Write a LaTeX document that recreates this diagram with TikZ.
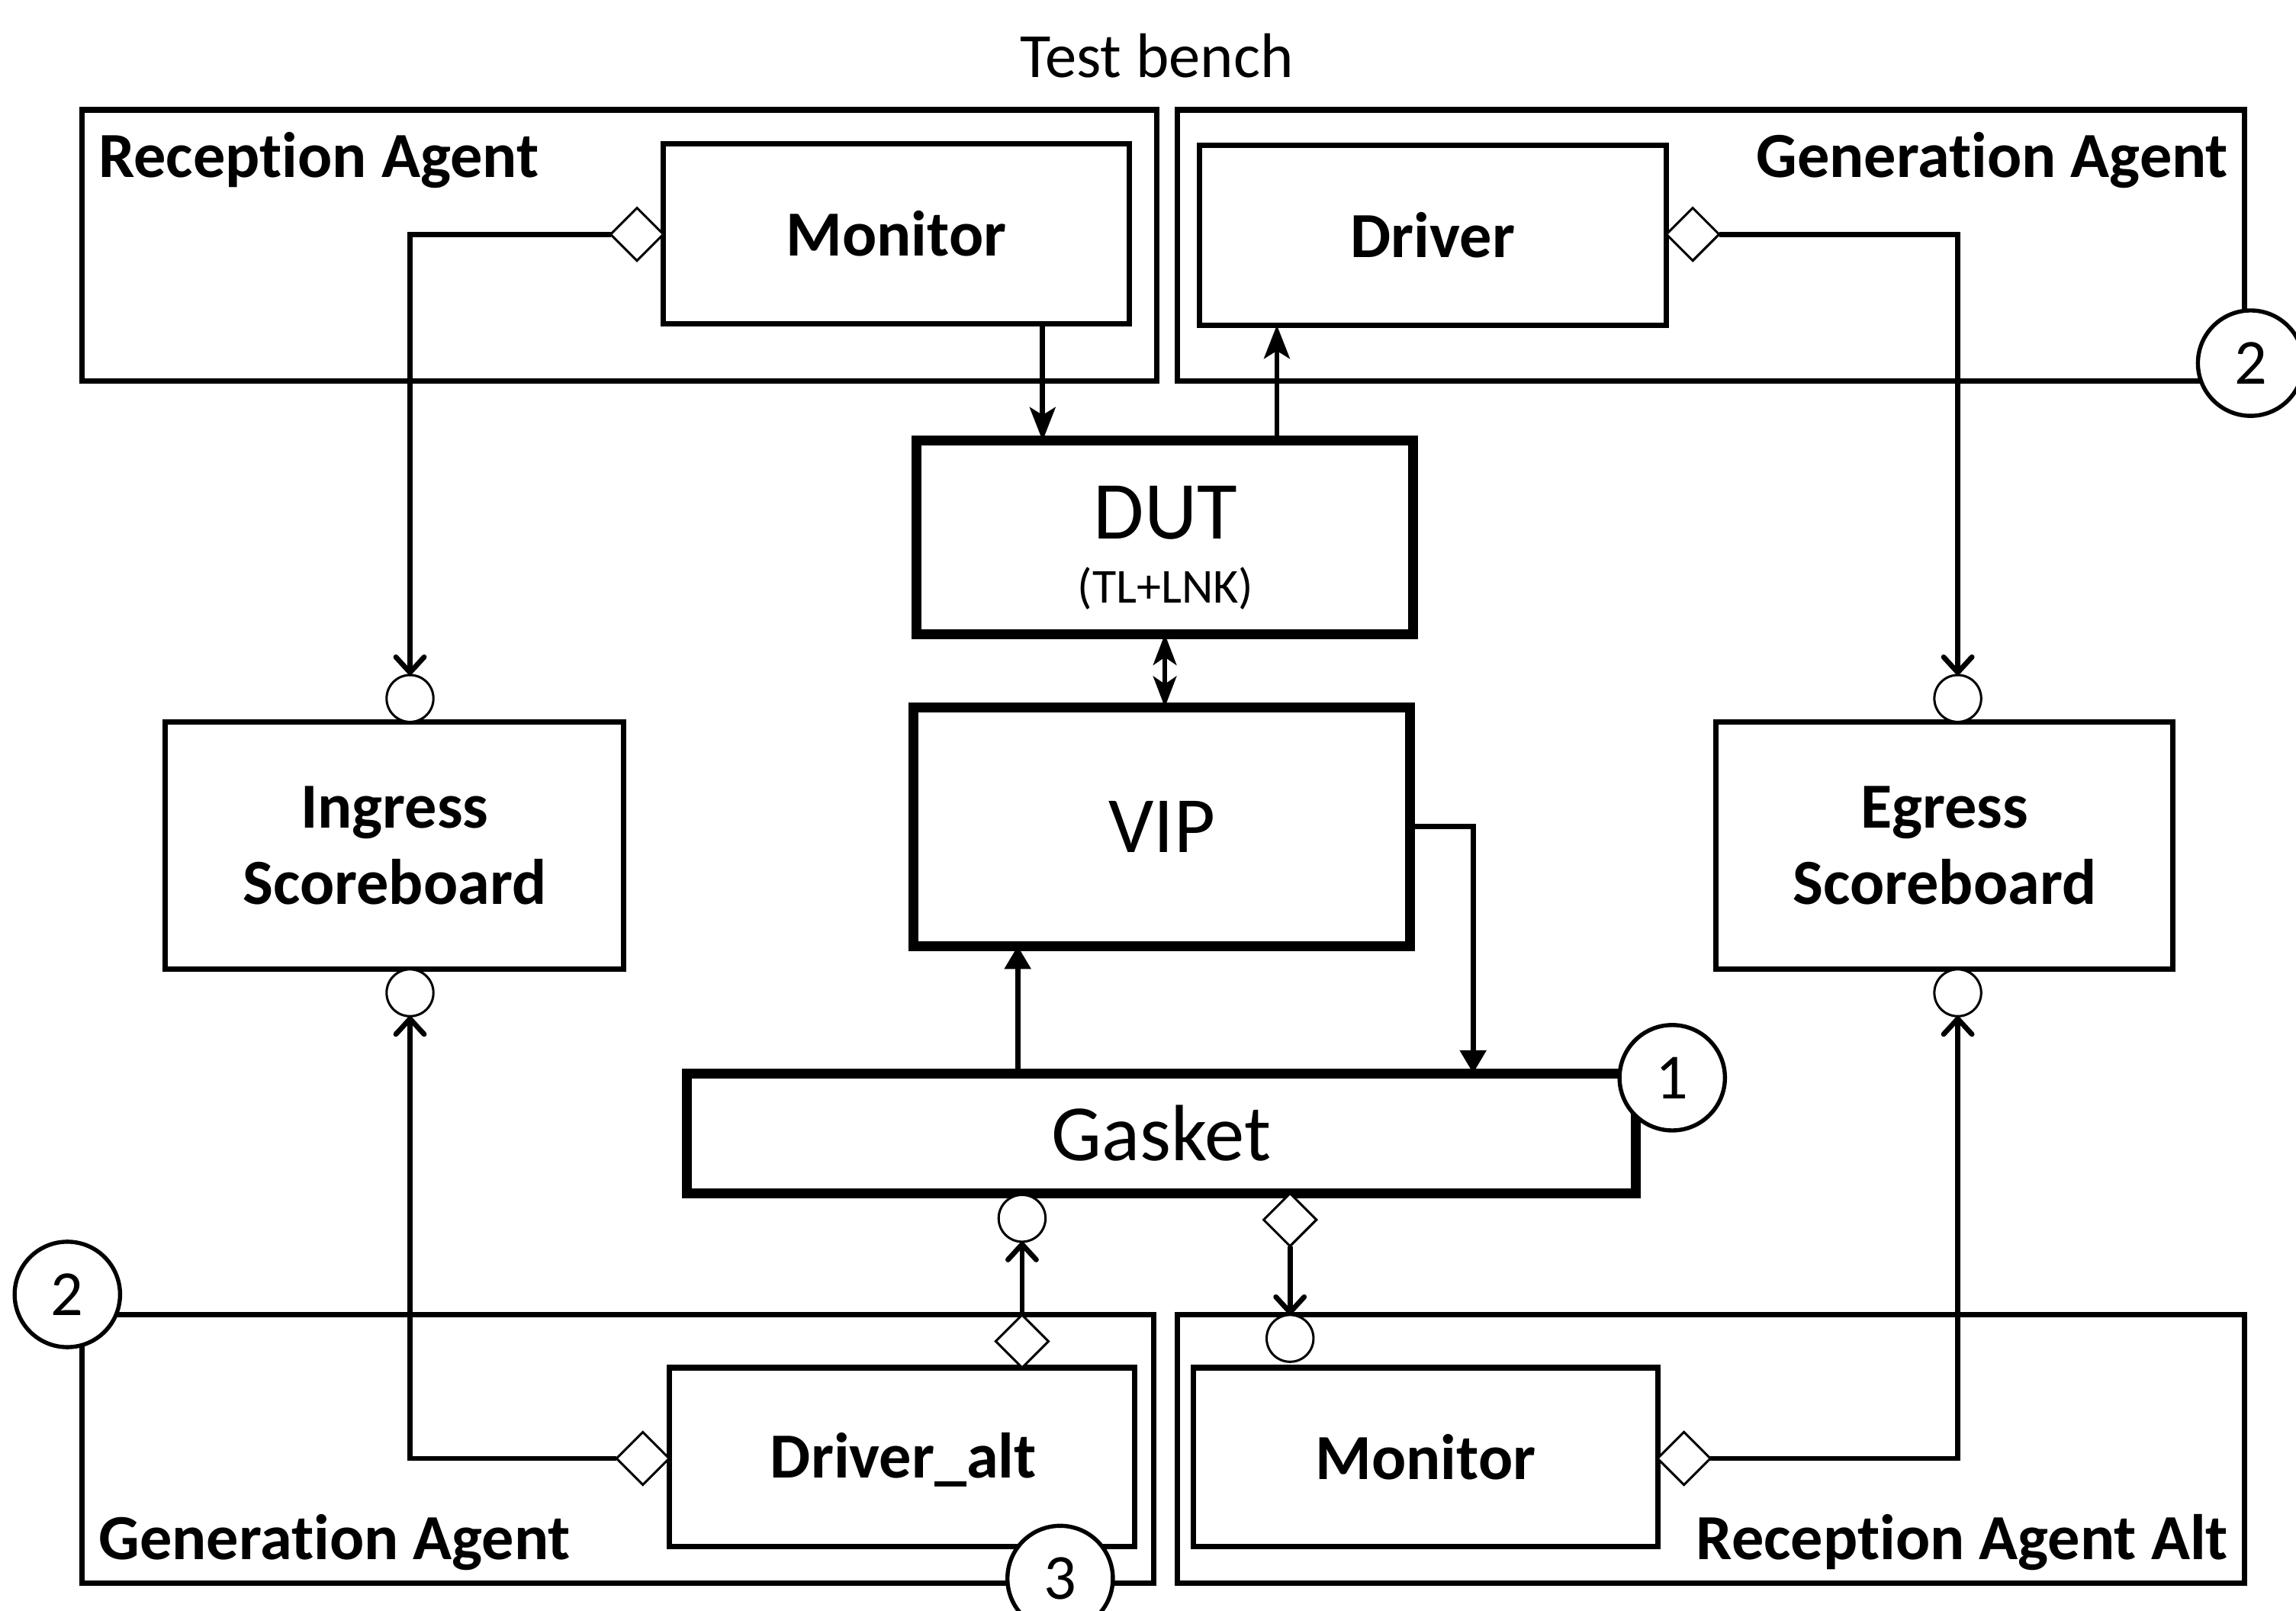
\documentclass[tikz,border=0pt]{standalone}
\usepackage{fontspec}
\setmainfont{Carlito}[Ligatures=NoCommon]
\usetikzlibrary{arrows.meta,shapes.geometric}
\def\U{0.02cm}
\tikzset{
  agent/.style={draw, line width=2.1pt, inner sep=0pt, outer sep=0pt},
  blk/.style={draw, line width=2.1pt, inner sep=0pt, outer sep=0pt, font=\fontsize{25}{30}\selectfont\bfseries},
  thickblk/.style={draw, line width=3.8pt, inner sep=0pt, outer sep=0pt},
  port/.style={draw, circle, line width=0.9pt, fill=white, minimum size=32*\U, inner sep=0pt, outer sep=0pt},
  dia/.style={draw, diamond, line width=0.9pt, fill=white, minimum width=36*\U, minimum height=36*\U, inner sep=0pt, outer sep=0pt},
  numc/.style={draw, circle, line width=1.6pt, fill=white, minimum size=72*\U, inner sep=0pt, font=\fontsize{25}{30}\selectfont},
  conn/.style={line width=2pt},
  stl/.style={conn, -{Stealth[length=13pt,width=10pt,inset=3pt]}},
  barb/.style={conn, -{Straight Barb[length=6pt,width=11pt,round]}},
  tri/.style={conn, -{Triangle[length=9pt,width=10pt]}},
  lbl/.style={font=\fontsize{25}{30}\selectfont\bfseries, inner sep=0pt},
}
\begin{document}
\begin{tikzpicture}[x=0.02cm,y=-0.02cm]
\useasboundingbox (0,0) rectangle (1568,1100);
% title
\node[font=\fontsize{24.5}{30}\selectfont, inner sep=0pt] (title) at (790,38) {Test bench};
% agent boxes
\node[agent, minimum width=734*\U, minimum height=185*\U] (recA) at (423,167.5) {};
\node[agent, minimum width=729*\U, minimum height=185*\U] (genA) at (1168.5,167.5) {};
\node[agent, minimum width=732*\U, minimum height=183*\U] (genB) at (422,989.5) {};
\node[agent, minimum width=729*\U, minimum height=183*\U] (recB) at (1168.5,989.5) {};
\node[lbl, anchor=base west] (recAl) at (67,121) {Reception Agent};
\node[lbl, anchor=base east] (genAl) at (1522,121) {Generation Agent};
\node[lbl, anchor=base west] (genBl) at (67,1065) {Generation Agent};
\node[lbl, anchor=base east] (recBl) at (1522,1065) {Reception Agent Alt};
% inner blocks
\node[blk, minimum width=318*\U, minimum height=123*\U] (mon1) at (612,159.5) {Monitor};
\node[blk, minimum width=319*\U, minimum height=123*\U] (drv1) at (978.5,160.5) {Driver};
\node[blk, minimum width=318*\U, minimum height=122*\U] (drv2) at (616,995) {};
\node[lbl] (drv2t) at (617,997) {Driver\_alt};
\node[blk, minimum width=317*\U, minimum height=122*\U] (mon2) at (973.5,995) {Monitor};
\node[blk, minimum width=313*\U, minimum height=169*\U, align=center, font=\fontsize{25}{29.5}\selectfont\bfseries] (ing) at (269.5,577.5) {Ingress\\Scoreboard};
\node[blk, minimum width=312*\U, minimum height=169*\U, align=center, font=\fontsize{25}{29.5}\selectfont\bfseries] (egr) at (1328,577.5) {Egress\\Scoreboard};
% central blocks
\node[thickblk, minimum width=339*\U, minimum height=132*\U] (dut) at (795.5,367) {};
\node[font=\fontsize{32}{36}\selectfont, inner sep=0pt] (dutt) at (796,350) {DUT};
\node[font=\fontsize{19}{22}\selectfont, inner sep=0pt] (dutsub) at (796,402) {(TL+LNK)};
\node[thickblk, minimum width=339*\U, minimum height=163*\U, font=\fontsize{31}{36}\selectfont] (vip) at (793.5,564.5) {VIP};
\node[thickblk, minimum width=648*\U, minimum height=82*\U, font=\fontsize{31}{36}\selectfont] (gas) at (793,774) {Gasket};
% ports
\node[port] (pit) at (280,477) {};
\node[port] (pib) at (280,678) {};
\node[port] (pet) at (1337,477) {};
\node[port] (peb) at (1337,678) {};
\node[port] (pgd) at (698,832) {};
\node[port] (pm2) at (881,914) {};
\node[dia] (dm1) at (435,160) {};
\node[dia] (dd1) at (1156,160) {};
\node[dia] (dd2l) at (439,996) {};
\node[dia] (dm2r) at (1150,996) {};
\node[dia] (dd2t) at (698,916) {};
\node[dia] (dg) at (881,833) {};
% helper x positions
\coordinate (x712) at (712,0);
\coordinate (x872) at (872,0);
\coordinate (x695) at (695,0);
\coordinate (x1006) at (1006,0);
% connectors
\draw[barb] (dm1.west) -| (pit.north);
\draw[barb] (dd1.east) -| (pet.north);
\draw[barb] (dd2l.west) -| (pib.south);
\draw[barb] (dm2r.east) -| (peb.south);
\draw[stl] (mon1.south -| x712) -- (dut.north -| x712);
\draw[stl] (dut.north -| x872) -- (drv1.south -| x872);
\draw[conn, {Stealth[length=12pt,width=9pt,inset=3pt]}-{Stealth[length=12pt,width=9pt,inset=3pt]}] (dut.south) -- (vip.north -| dut.south);
\draw[tri] (vip.east) -| (gas.north -| x1006);
\draw[tri] (gas.north -| x695) -- (vip.south -| x695);
\draw[barb] (dd2t.north) -- (pgd.south);
\draw[barb] (dg.south) -- (pm2.north);
% numbered circles
\node[numc] (n1) at (1142,736) {1};
\node[numc] (n2a) at (1537,248) {2};
\node[numc] (n2b) at (46,884) {2};
\node[numc] (n3) at (724,1078) {3};
\end{tikzpicture}
\end{document}
